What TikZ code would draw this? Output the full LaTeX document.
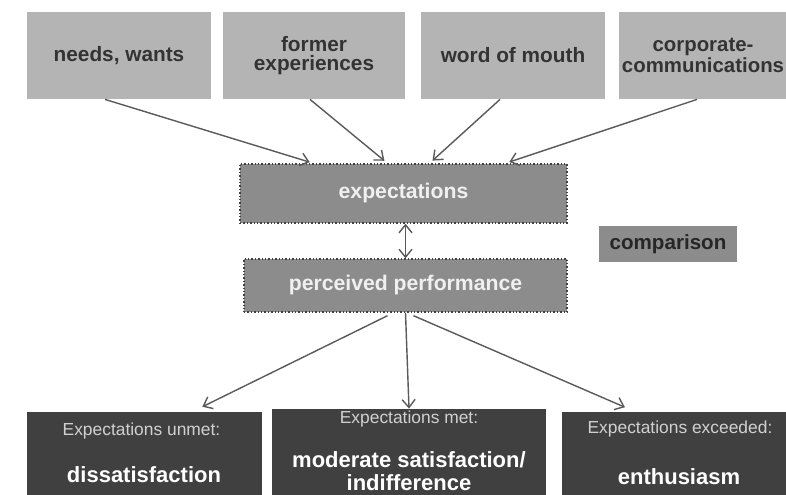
\documentclass[tikz,border=0pt]{standalone}
\usepackage{fontspec}
\setmainfont{Liberation Sans}
\usetikzlibrary{arrows.meta}
\definecolor{lightbox}{HTML}{B4B4B4}
\definecolor{midbox}{HTML}{8C8C8C}
\definecolor{darkbox}{HTML}{404040}
\definecolor{linegray}{HTML}{5A5A5A}

\begin{document}
\begin{tikzpicture}[x=0.5pt,y=-0.5pt,
  source/.style={fill=lightbox,minimum width=92pt,minimum height=43.5pt,align=center,
    text=black!80,font=\fontsize{10.4}{9.4}\selectfont\bfseries,inner sep=0pt},
  stage/.style={fill=midbox,draw=black!75,densely dotted,line width=0.7pt,
    text=white!94!black,font=\fontsize{10.6}{12}\selectfont\bfseries,inner sep=0pt},
  outcome/.style={fill=darkbox,minimum height=54pt,inner sep=0pt},
  small/.style={text=white!82!black,font=\fontsize{8.7}{10}\selectfont,inner sep=0pt},
  big/.style={text=white,font=\fontsize{11}{11.5}\selectfont\bfseries,align=center,inner sep=0pt},
  arr/.style={-{Straight Barb[length=4pt,width=6.5pt]},linegray,line width=0.7pt}]
\clip (0,0) rectangle (786,494);
\fill[white] (0,0) rectangle (786,494);
% sources
\node[source] (needs) at (119,55.5) {needs, wants};
\node[source,minimum width=91pt] (former) at (314,55.5) {former\\experiences};
\node[source] (mouth) at (513,55.5) {word of mouth};
\node[source] (corp) at (711,55.5) {};
\node[align=center,text=black!80,font=\fontsize{10.2}{9.4}\selectfont\bfseries,inner sep=0pt]
  (corptxt) at (703,55.5) {corporate-\\communications};
% expectations and performance
\node[stage,minimum width=163.5pt,minimum height=29.5pt] (expec) at (403.5,193.5) {expectations};
\node[stage,minimum width=161.5pt,minimum height=26.5pt] (perf) at (405.5,285.5) {perceived performance};
\node[fill=midbox,minimum width=69pt,minimum height=18pt,inner sep=0pt,text=black!85,
  font=\fontsize{10.3}{12}\selectfont\bfseries] (comp) at (668,244) {comparison};
% outcomes
\node[outcome,minimum width=117.5pt] (unmet) at (144.5,466) {};
\node[outcome,minimum width=137pt] (met) at (409,463) {};
\node[outcome,minimum width=117pt] (exceed) at (679,466) {};
\node[small] (unmettxt) at (141.5,431) {Expectations unmet:};
\node[big] (unmetbig) at (144,475) {dissatisfaction};
\node[small] (mettxt) at (409,419) {Expectations met:};
\node[big] (metbig) at (409,471) {moderate satisfaction/\\indifference};
\node[small] (exceedtxt) at (680,429) {Expectations exceeded:};
\node[big] (exceedbig) at (679,477) {enthusiasm};
% arrows
\draw[arr,shorten >=2pt] ([xshift=-7pt]needs.south) -- ([xshift=-45pt]expec.north);
\draw[arr,shorten >=2pt] ([xshift=-2pt]former.south) -- ([xshift=-8pt]expec.north);
\draw[arr,shorten >=2pt] ([xshift=-6.5pt]mouth.south) -- ([xshift=13pt]expec.north);
\draw[arr,shorten >=2pt] ([xshift=-7pt]corp.south) -- ([xshift=51pt]expec.north);
\draw[arr,{Straight Barb[length=4pt,width=6.5pt]}-{Straight Barb[length=4pt,width=6.5pt]}]
  (perf.north |- expec.south) -- (perf.north);
\draw[arr,shorten >=5.5pt] ([xshift=-9pt,yshift=-1.5pt]perf.south) -- ([xshift=24pt]unmet.north);
\draw[arr] (perf.south) -- (met.north);
\draw[arr,shorten >=5.5pt] ([xshift=4pt,yshift=-1.5pt]perf.south) -- ([xshift=-22pt]exceed.north);
\end{tikzpicture}
\end{document}
